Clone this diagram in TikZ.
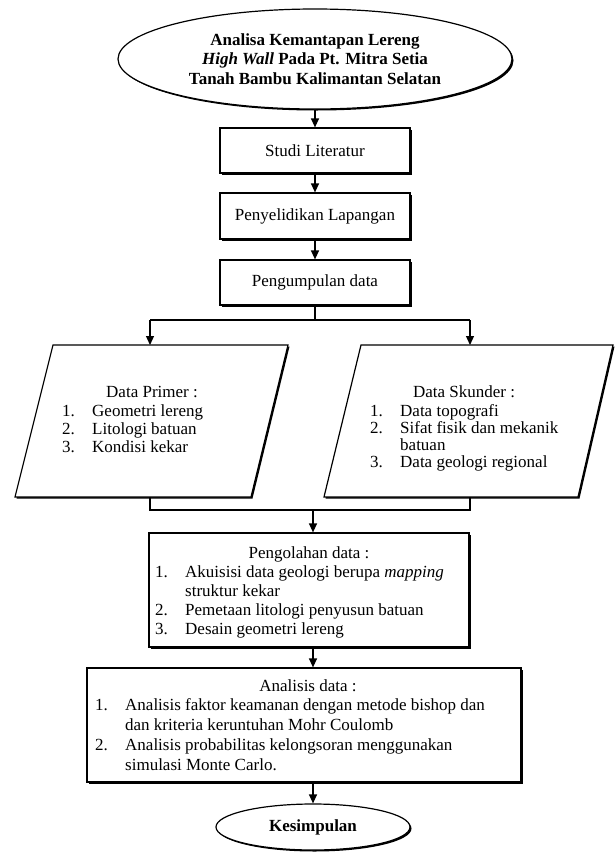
\documentclass[tikz,border=0pt]{standalone}
\usepackage{fontspec}
\setmainfont{Liberation Serif}
\usetikzlibrary{shapes.geometric,arrows.meta,shadows}

\newcommand{\butir}[1]{\makebox[30pt][l]{#1}}
\newcommand{\lanjut}{\hspace*{30pt}}

\tikzset{
  teks/.style={font=\fontsize{17}{19}\selectfont},
  bayang/.style={drop shadow={shadow xshift=1.5pt,shadow yshift=-1.5pt,fill=black,opacity=1}},
  kotak/.style={draw, line width=1.2pt, fill=white, rectangle, inner sep=0pt, teks, bayang},
  lonjong/.style={draw, line width=1.2pt, fill=white, ellipse, inner sep=0pt, teks, bayang},
  jajar/.style={draw, line width=1.2pt, fill=white, bayang},
  daftar/.style={teks, align=left, anchor=north west, inner sep=0pt},
  garis/.style={line width=1.2pt},
  panah/.style={line width=1.2pt, -{Triangle[length=9pt,width=8pt]}}
}

\begin{document}
\begin{tikzpicture}[x=1pt,y=-1pt]
  \useasboundingbox (0,0) rectangle (615,852);

  % judul
  \node[lonjong, minimum width=394pt, minimum height=100pt, align=center, font=\fontsize{17}{19.5}\selectfont\bfseries]
    (judul) at (315,59) {Analisa Kemantapan Lereng\\ \textit{High Wall} Pada Pt. Mitra Setia\\ Tanah Bambu Kalimantan Selatan};

  % tahap awal
  \node[kotak, minimum width=190pt, minimum height=45pt] (studi) at (315,150.5) {Studi Literatur};
  \node[kotak, minimum width=190pt, minimum height=46pt] (selidik) at (315,216) {Penyelidikan Lapangan};
  \node[kotak, minimum width=190pt, minimum height=45pt] (kumpul) at (315,282.5) {Pengumpulan data};

  \draw[panah] (judul) -- (studi);
  \draw[panah] (studi) -- (selidik);
  \draw[panah] (selidik) -- (kumpul);

  % data primer dan sekunder
  \draw[jajar] (53,345) -- (288,345) -- (251,497) -- (15,497) -- cycle;
  \draw[jajar] (361,345) -- (613,345) -- (578,497) -- (324,497) -- cycle;
  \coordinate (primeratas) at (150,345);
  \coordinate (primerbawah) at (150,497);
  \coordinate (skunderatas) at (470,345);
  \coordinate (skunderbawah) at (470,497);

  \node[teks, anchor=base] (judulprimer) at (152,397) {Data Primer :};
  \node[daftar, font=\fontsize{17}{18}\selectfont] (isiprimer) at (62,404) {\butir{1.}Geometri lereng\\ \butir{2.}Litologi batuan\\ \butir{3.}Kondisi kekar};

  \node[teks, anchor=base] (judulskunder) at (464,397) {Data Skunder :};
  \node[daftar, font=\fontsize{17}{17}\selectfont] (isiskunder) at (370,404) {\butir{1.}Data topografi\\ \butir{2.}Sifat fisik dan mekanik\\ \lanjut batuan\\ \butir{3.}Data geologi regional};

  \coordinate (cabang) at (315,320);
  \coordinate (cabangkiri) at (150,320);
  \coordinate (cabangkanan) at (470,320);
  \draw[garis] (kumpul) -- (cabang);
  \draw[garis] (cabangkiri) -- (cabangkanan);
  \draw[panah] (cabangkiri) -- (primeratas);
  \draw[panah] (cabangkanan) -- (skunderatas);

  % pengolahan
  \node[kotak, minimum width=320pt, minimum height=114pt] (olah) at (309,590) {};
  \node[teks, anchor=base] (judulolah) at (309,558) {Pengolahan data :};
  \node[daftar] (isiolah) at (155,565) {\butir{1.}Akuisisi data geologi berupa \textit{mapping}\\ \lanjut struktur kekar\\ \butir{2.}Pemetaan litologi penyusun batuan\\ \butir{3.}Desain geometri lereng};

  \coordinate (gabung) at (313,510);
  \coordinate (gabungkiri) at (150,510);
  \coordinate (gabungkanan) at (470,510);
  \draw[garis] (primerbawah) -- (gabungkiri) -- (gabungkanan) -- (skunderbawah);
  \draw[panah] (gabung) -- (gabung |- olah.north);

  % analisis
  \node[kotak, minimum width=434pt, minimum height=114pt] (analisis) at (304,725) {};
  \node[teks, anchor=base] (judulanalisis) at (308,691) {Analisis data :};
  \node[daftar, font=\fontsize{17}{20}\selectfont] (isianalisis) at (95,698) {\butir{1.}Analisis faktor keamanan dengan metode bishop dan\\ \lanjut dan kriteria keruntuhan Mohr Coulomb\\ \butir{2.}Analisis probabilitas kelongsoran menggunakan\\ \lanjut simulasi Monte Carlo.};

  % akhir
  \node[lonjong, minimum width=194pt, minimum height=46pt, font=\fontsize{17}{19}\selectfont\bfseries] (simpul) at (313,827) {Kesimpulan};

  \draw[panah] (olah.south -| simpul) -- (analisis.north -| simpul);
  \draw[panah] (analisis.south -| simpul) -- (simpul);
\end{tikzpicture}
\end{document}
